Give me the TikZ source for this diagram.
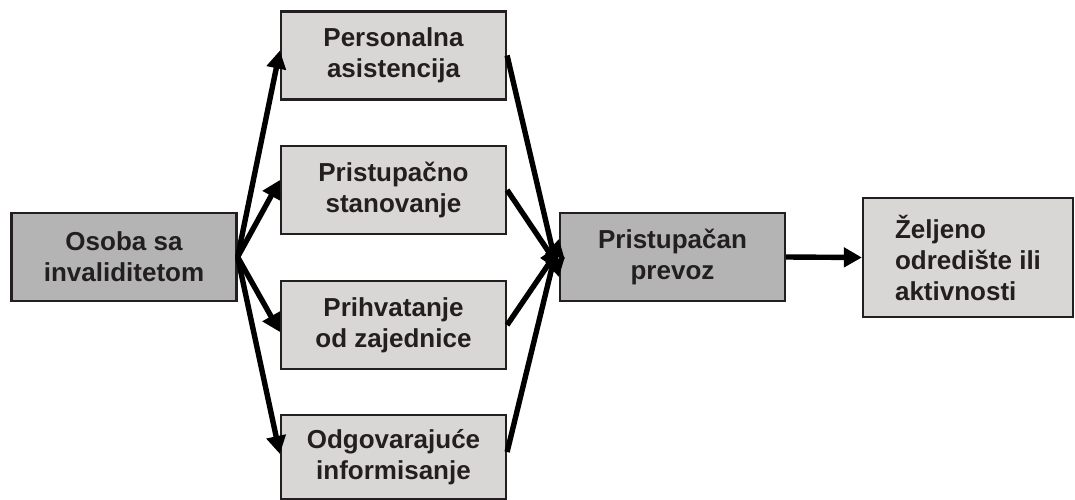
\documentclass[tikz,border=0pt]{standalone}
\usepackage{fontspec}
\setmainfont{Liberation Sans}
\usetikzlibrary{arrows.meta,positioning}
\definecolor{ink}{HTML}{231F20}
\definecolor{darkbox}{HTML}{B4B4B4}
\definecolor{lightbox}{HTML}{D9D7D6}
\tikzset{
  box/.style={draw=ink, line width=2.2pt, text=ink, inner sep=0pt,
    minimum width=225pt, minimum height=88pt, align=center,
    font=\fontsize{26}{31}\selectfont\bfseries},
  darkb/.style={box, fill=darkbox},
  lightb/.style={box, fill=lightbox},
  conn/.style={draw=black, line width=5.4pt,
    -{Triangle[length=18pt,width=19pt]}}
}
\begin{document}
\begin{tikzpicture}[x=1pt,y=-1pt]
\useasboundingbox (0,0) rectangle (1075,500);
\node[darkb] (os) at (124,257) {Osoba sa\\invaliditetom};
\node[lightb] (pa) at (393.5,55.5) {Personalna\\asistencija};
\node[lightb] (ps) at (393.5,190) {Pristupačno\\stanovanje};
\node[lightb] (pz) at (393.5,325) {Prihvatanje\\od zajednice};
\node[lightb, minimum height=84pt] (oi) at (393.5,457) {Odgovarajuće\\informisanje};
\node[darkb] (pp) at (672.5,257) {Pristupačan\\prevoz};
\node[lightb, minimum width=210pt, minimum height=119pt, align=left] (zo) at (968,257.5) {Željeno\\odredište ili\\aktivnosti};

\draw[conn] (os.east) -- ([yshift=5pt]pa.west);
\draw[conn] (os.east) -- ([yshift=10pt]ps.west);
\draw[conn] (os.east) -- ([yshift=-7pt]pz.west);
\draw[conn] (os.east) -- ([yshift=3pt]oi.west);

\draw[conn] (pa.east) -- ([yshift=-20pt]pp.west);
\draw[conn] (ps.east) -- ([yshift=-10pt]pp.west);
\draw[conn] (pz.east) -- ([yshift=8pt]pp.west);
\draw[conn] ([yshift=5pt]oi.east) -- ([yshift=18pt]pp.west);

\draw[conn] (pp.east) -- (zo.west);
\end{tikzpicture}
\end{document}
